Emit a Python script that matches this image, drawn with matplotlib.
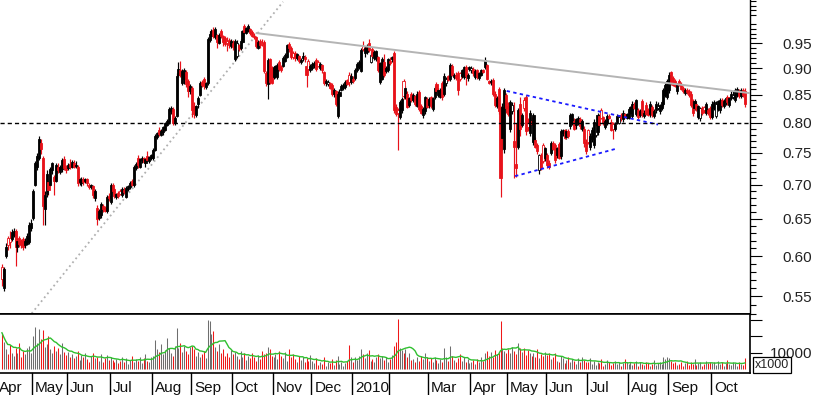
import numpy as np
import pandas as pd
import matplotlib
matplotlib.use("Agg")
import matplotlib.pyplot as plt
from matplotlib.patches import Rectangle
from matplotlib.ticker import FixedLocator

# daily bars per month: (open, high, low, close) in 1/1000, volume in millions
apr09 = [(586,590,563,571,22.0),(560,586,556,584,16.5),(600,617,597,612,12.0),(624,626,608,614,9.0),
         (624,634,611,618,14.5),(622,636,620,632,10.0),(628,638,625,634,8.0),(634,636,587,612,13.0),
         (612,624,605,620,9.5),(624,626,612,616,15.5),(620,622,610,614,7.0),(622,625,608,612,11.0),
         (614,624,611,620,9.0),(616,630,614,626,12.5),(618,646,616,641,14.0),(638,650,634,645,10.0)]
may09 = [(651,694,648,690,20.0),(700,736,698,733,25.5),(728,750,722,745,16.0),(742,778,738,772,24.5),
         (766,772,748,756,18.0),(741,745,641,668,23.5),(664,690,642,684,13.5),(686,722,682,716,15.0),
         (704,706,684,692,20.0),(700,728,698,724,12.0),(722,735,716,733,9.5),(711,714,684,705,14.0),
         (706,734,704,731,11.0),(728,733,718,722,13.0),(720,730,716,727,9.0),(724,742,720,738,15.5),
         (740,744,722,726,10.5),(726,730,718,722,8.5)]
jun09 = [(726,734,722,730,10.5),(732,740,724,727,7.0),(728,738,725,735,9.0),(733,738,726,728,6.5),
         (729,736,725,731,8.0),(728,730,698,703,11.0),(704,710,700,708,5.5),(702,711,698,709,8.5),
         (708,712,700,704,7.0),(706,710,702,708,9.5),(708,710,698,702,6.0),(700,703,693,696,4.5),
         (697,701,693,699,8.0),(698,700,680,684,10.0),(680,694,676,690,6.5),(666,670,642,650,7.5),
         (652,664,648,662,5.0),(655,674,652,672,9.0),(668,672,660,664,4.0),(665,668,660,662,6.5),
         (662,685,658,682,8.5),(683,688,676,680,5.5)]
jul09 = [(674,703,672,700,7.0),(699,702,688,690,5.5),(693,695,680,683,4.0),(681,688,678,686,6.0),
         (687,690,680,683,3.5),(690,693,684,686,5.0),(684,697,682,694,7.5),(692,696,686,689,4.5),
         (682,698,680,695,6.5),(693,700,690,698,3.0),(696,706,694,703,5.5),(706,708,698,700,8.0),
         (699,730,697,727,4.0),(726,735,722,732,6.0),(742,746,726,730,5.0),(728,742,726,740,7.0),
         (738,744,733,741,3.5),(741,743,733,735,6.5),(733,742,728,740,9.0),(744,752,736,738,5.0),
         (736,745,733,743,4.5),(742,748,738,746,7.5)]
aug09 = [(741,757,738,754,8.0),(754,781,752,778,17.5),(776,785,772,782,12.0),(788,792,778,781,10.5),
         (780,790,778,786,15.0),(784,795,780,792,9.0),(788,802,786,799,11.5),(796,806,794,803,19.0),
         (801,828,798,824,13.0),(820,830,815,826,9.5),(824,827,796,800,8.0),(800,812,797,808,14.0),
         (812,890,810,885,25.0),(888,912,883,898,12.5),(897,915,884,888,16.0),(872,898,868,894,10.5),
         (880,900,870,897,14.0),(893,896,864,870,11.0),(876,880,846,856,9.0),(856,870,852,866,13.5)]
sep09 = [(862,866,810,822,14.0),(830,836,808,815,12.0),(814,832,810,829,8.0),(834,848,826,844,10.5),
         (850,876,848,872,7.5),(874,878,864,868,9.0),(880,884,860,866,11.0),(864,874,860,872,6.5),
         (872,963,868,958,30.0),(956,975,952,970,29.0),(966,980,964,976,21.0),(978,984,960,964,23.0),
         (962,984,958,980,13.5),(967,970,940,953,11.0),(951,972,948,968,15.0),(976,980,960,964,9.5),
         (966,968,945,952,12.0),(960,964,944,948,8.0),(955,962,935,950,10.0),(956,960,940,947,7.5),
         (944,958,940,954,11.5)]
oct09 = [(950,956,936,942,9.0),(918,958,914,955,10.5),(924,956,920,950,8.0),(946,948,935,938,6.0),
         (940,958,936,955,11.0),(952,978,950,975,7.5),(986,990,972,974,9.5),(972,984,970,982,5.5),
         (976,990,974,986,8.0),(980,982,968,972,6.5),(974,978,962,966,10.0),(966,972,958,962,7.0),
         (962,964,940,944,5.0),(940,956,938,952,8.5),(955,958,940,946,6.0),(950,958,944,948,11.0),
         (952,956,890,895,9.0),(890,895,866,872,10.0),(870,920,842,916,13.5),(918,920,870,874,12.0),
         (900,904,870,872,8.0)]
nov09 = [(884,904,880,902,7.5),(886,906,882,904,9.0),(883,910,880,907,6.0),(912,916,895,898,11.0),
         (902,906,892,896,8.0),(905,924,902,920,6.5),(915,930,912,926,10.5),(922,948,920,946,5.0),
         (948,953,932,940,12.0),(940,944,918,922,7.0),(930,934,918,922,9.0),(930,934,915,920,6.0),
         (920,930,916,928,4.5),(924,926,910,914,8.0),(912,920,908,916,5.5),(920,932,914,924,7.0),
         (922,926,912,918,4.0),(904,906,864,888,6.5),(914,918,896,899,5.0),(896,908,892,905,8.5)]
dec09 = [(900,912,896,909,5.0),(906,914,900,911,3.5),(916,920,894,898,6.5),(912,916,902,905,2.5),
         (900,912,896,909,4.0),(906,908,890,896,3.0),(892,894,868,872,7.0),(872,880,866,876,2.0),
         (870,878,866,874,4.5),(872,874,860,862,3.5),(868,872,848,852,6.0),(852,862,846,858,2.5),
         (856,858,830,833,5.5),(812,856,808,852,8.0),(848,860,845,855,3.0),(858,870,856,866,4.5),
         (862,872,858,868,2.0),(864,877,860,874,3.5),(878,880,868,870,5.0),(888,892,866,874,14.5),
         (874,890,870,886,7.5)]
jan10 = [(880,886,872,876,4.5),(882,900,878,897,7.0),(896,912,892,908,5.5),(902,916,898,912,8.0),
         (895,940,893,936,12.0),(945,955,935,938,9.0),(930,944,922,940,6.5),(932,948,928,944,10.0),
         (950,959,932,936,11.5),(912,930,910,926,5.0),(938,942,920,924,6.0),(920,936,916,932,4.0),
         (918,936,914,934,7.5),(922,924,893,896,9.0),(874,912,870,910,6.5),(880,922,878,918,8.0),
         (912,928,884,888,5.5),(895,904,890,900,7.0),(896,920,893,918,4.5)]
feb10 = [(914,922,906,910,6.0),(918,925,912,922,8.5),(930,935,818,822,14.0),(828,834,812,816,16.5),
         (822,826,754,817,30.5),(810,840,806,836,13.0),(822,846,818,842,11.5),(875,880,843,848,10.0),
         (846,866,842,862,12.0),(852,856,826,828,7.0),(832,846,828,844,9.5),(852,855,836,840,5.5),
         (840,854,836,850,6.0),(848,850,830,834,4.5),(830,856,828,852,7.0),(855,859,820,824,5.0),
         (830,834,816,818,8.0),(814,828,808,824,6.0),(820,848,816,845,9.5),(842,846,826,828,7.5)]
mar10 = [(832,846,826,842,5.0),(846,848,826,830,6.5),(824,846,820,844,4.0),(846,866,842,862,7.5),
         (870,874,852,856,5.5),(850,862,846,858,3.5),(846,862,844,858,6.0),(872,876,840,846,4.5),
         (852,890,848,886,13.0),(872,884,866,880,7.0),(886,888,876,878,5.0),(880,910,876,907,14.0),
         (905,908,885,888,8.0),(884,890,880,888,5.5),(888,892,878,882,4.0),(890,894,850,858,6.5),
         (890,892,876,880,9.0),(886,898,882,896,5.0),(884,904,880,902,7.0),(902,906,868,886,4.5),
         (881,890,876,888,6.0),(898,904,894,902,3.5)]
apr10 = [(896,904,890,900,4.0),(898,902,886,890,5.5),(884,898,880,894,3.0),(896,898,880,884,6.0),
         (882,892,878,890,4.5),(888,898,886,896,7.0),(897,899,890,892,5.0),(902,922,898,916,9.5),
         (906,908,878,880,11.0),(876,878,870,872,8.0),(874,880,868,876,10.5),(878,882,848,852,7.5),
         (852,856,828,832,11.5),(830,848,826,844,9.0),(860,864,816,820,10.0),(826,830,681,710,29.0),
         (774,835,754,828,12.5),(756,862,750,858,11.0),(850,854,818,826,9.5)]
may10 = [(830,836,812,816,12.0),(790,840,784,836,10.0),(820,836,816,832,13.5),(770,836,710,760,11.0),
         (732,800,712,726,9.0),(760,826,756,822,16.0),(834,846,778,790,12.5),(796,818,792,814,10.5),
         (840,846,820,826,13.0),(846,850,780,786,8.5),(800,808,786,792,11.5),(782,822,778,818,9.5),
         (804,810,796,798,8.0),(767,818,762,814,10.0),(771,776,758,760,7.0),(762,766,748,752,12.0),
         (722,748,716,746,6.5),(746,750,722,726,9.0),(762,766,734,736,8.0),(742,760,736,757,10.5)]
jun10 = [(746,750,726,730,8.5),(734,738,724,728,10.0),(750,770,746,766,6.0),(766,770,754,756,7.5),
         (762,766,734,738,9.5),(746,760,742,758,5.0),(764,768,740,742,4.5),(744,790,740,786,8.0),
         (782,790,778,788,6.5),(787,790,772,774,3.5),(776,790,772,786,5.5),(786,790,774,778,7.0),
         (794,818,790,814,4.0),(800,818,796,816,6.0),(804,808,788,790,5.0),(796,808,790,806,3.0),
         (800,812,796,808,6.5),(806,810,790,794,4.5),(790,806,786,804,7.5),(790,794,760,766,5.5),
         (768,772,748,752,4.0)]
jul10 = [(787,790,764,768,4.0),(760,782,754,778,6.5),(772,792,768,788,3.0),(762,806,758,802,5.0),
         (780,800,776,796,2.5),(784,818,780,814,4.5),(812,816,794,796,3.5),(822,826,806,808,6.0),
         (810,812,796,800,2.0),(792,806,790,804,3.0),(800,816,796,812,5.5),(812,815,806,808,4.0),
         (802,806,786,788,2.5),(798,802,772,790,3.5),(790,802,786,798,5.0),(802,816,798,812,3.0),
         (800,814,798,810,4.5),(814,818,804,808,2.0),(806,822,802,818,3.5),(816,818,808,812,6.0),
         (808,818,806,816,4.0)]
aug10 = [(808,826,806,824,3.0),(818,830,816,828,4.5),(812,838,808,834,2.5),(832,836,824,826,3.5),
         (816,842,812,840,5.0),(822,826,806,810,2.0),(814,824,810,820,4.0),(838,842,810,814,3.0),
         (812,822,808,818,2.5),(832,836,814,816,4.5),(822,826,812,814,3.5),(816,838,810,834,2.0),
         (828,832,810,814,3.0),(812,824,808,820,5.5),(822,838,818,834,2.5),(826,836,822,830,3.5),
         (820,834,816,832,4.0),(826,840,822,836,3.0),(834,862,830,858,7.0),(850,872,846,868,6.0),
         (846,880,842,876,7.5)]
sep10 = [(858,892,854,888,6.5),(892,895,868,872,5.0),(882,886,866,868,3.5),(876,880,864,866,4.0),
         (856,872,852,870,2.5),(876,880,866,868,3.0),(870,874,858,860,4.5),(862,866,854,856,2.0),
         (854,862,850,858,3.5),(858,862,852,855,5.0),(856,860,846,850,2.5),(852,856,828,832,4.0),
         (838,842,812,818,3.0),(826,842,822,838,6.0),(834,838,820,824,2.5),(810,832,806,830,3.5),
         (808,828,804,826,4.5),(826,830,814,818,2.0),(827,830,818,822,3.0),(818,836,814,834,5.0),
         (822,826,814,818,3.5),(826,830,806,810,4.0)]
oct10 = [(810,838,806,834,3.5),(826,840,822,836,4.5),(812,838,808,834,2.5),(824,840,820,838,5.0),
         (822,844,818,840,3.0),(840,844,828,832,4.0),(830,842,826,838,2.0),(836,846,832,844,3.5),
         (846,850,832,836,5.5),(832,846,828,844,3.0),(844,856,840,852,2.5),(846,856,842,850,4.5),
         (840,862,836,858,3.5),(850,864,846,860,2.0),(856,860,844,848,4.0),(848,862,844,858,3.0),
         (858,862,846,850,2.5),(856,862,828,834,6.5)]

months = [apr09, may09, jun09, jul09, aug09, sep09, oct09, nov09, dec09, jan10,
          feb10, mar10, apr10, may10, jun10, jul10, aug10, sep10, oct10]
month_labels = ["Apr", "May", "Jun", "Jul", "Aug", "Sep", "Oct", "Nov", "Dec", "2010",
                "", "Mar", "Apr", "May", "Jun", "Jul", "Aug", "Sep", "Oct"]

# drawn lines: (bar index, price)
resist_x, resist_y = [131.3, 385.6], [0.971, 0.853]
support_x, support_y = [15.3, 144.9], [0.530, 1.039]
tri_top_x, tri_top_y = [260.2, 338.2], [0.857, 0.797]
tri_bot_x, tri_bot_y = [264.5, 316.0], [0.713, 0.756]
level = 0.80

RED = "#e8121a"
W, H = 817, 395

rows = [r for m in months for r in m]
o = np.array([r[0] for r in rows]) / 1000
h = np.array([r[1] for r in rows]) / 1000
l = np.array([r[2] for r in rows]) / 1000
c = np.array([r[3] for r in rows]) / 1000
vol = np.array([r[4] for r in rows]) * 1000
idx = np.arange(len(rows))
starts = np.cumsum([0] + [len(m) for m in months[:-1]])

plt.rcParams["font.family"] = ["Liberation Sans", "DejaVu Sans"]
plt.rcParams["lines.scale_dashes"] = False

fig = plt.figure(figsize=(W / 100, H / 100), dpi=100)


def box(x0, y0, x1, y1):
    return [x0 / W, 1 - y1 / H, (x1 - x0) / W, (y1 - y0) / H]


ax = fig.add_axes(box(0, 0, 750, 313.5))
axv = fig.add_axes(box(0, 313.5, 750, 372.7))

# ── candles ──
up = c >= o
prev = np.r_[c[0], c[:-1]]
filled = up == (c >= prev)
col = np.where(up, "black", RED)
face = np.where(filled, col, "white")

ax.set_yscale("log")
ax.vlines(idx, l, h, colors=col, lw=0.85, zorder=2)
body_lo = np.minimum(o, c)
body_h = np.maximum(np.abs(c - o), 0.0015)
ax.bar(idx, body_h, bottom=body_lo, width=1.05, color=face, edgecolor=col,
       linewidth=0.6, zorder=3)

ax.plot(resist_x, resist_y, color="#b4b4b4", lw=1.4, zorder=4)
ax.plot(support_x, support_y, color="#b0b0b0", lw=1.3, ls=(0, (1.3, 2.3)), zorder=1)
ax.plot(tri_top_x, tri_top_y, color="#1a1aff", lw=1.3, ls=(0, (2.4, 2.4)), zorder=4)
ax.plot(tri_bot_x, tri_bot_y, color="#1a1aff", lw=1.3, ls=(0, (2.4, 2.4)), zorder=4)
ax.axhline(level, color="black", lw=1.0, ls=(0, (3, 2.2)), zorder=4)

ax.set_xlim(-1, 385.6)
ax.set_ylim(0.530, 1.043)
ax.set_xticks([])
for s in ("top", "left"):
    ax.spines[s].set_visible(False)
ax.spines["bottom"].set_linewidth(1.3)
ax.spines["right"].set_linewidth(1.0)
ax.yaxis.tick_right()
majors = [0.55, 0.60, 0.65, 0.70, 0.75, 0.80, 0.85, 0.90, 0.95]
ax.yaxis.set_major_locator(FixedLocator(majors))
ax.yaxis.set_minor_locator(FixedLocator([k / 100 for k in range(53, 105) if k % 5]))
ax.set_yticklabels([f"{v:.2f}" for v in majors])
ax.yaxis.set_minor_formatter(plt.NullFormatter())
ax.tick_params(axis="y", which="major", length=8.6, width=0.8, labelsize=11,
               pad=36, labelcolor="#222222")
ax.tick_params(axis="y", which="minor", length=4.3, width=0.8)
for lab in ax.get_yticklabels():
    lab.set_horizontalalignment("right")

# ── volume ──
vcol = np.where(up, "#6e6e6e", "#f01818")
axv.vlines(idx, 0, vol, colors=vcol, lw=0.75, zorder=2)
ma = pd.Series(vol).rolling(10, min_periods=1).mean()
axv.plot(idx, ma, color="#30c030", lw=1.0, zorder=3)
axv.set_xlim(-1, 385.6)
axv.set_ylim(-2250, 33700)
axv.set_xticks([])
axv.spines["left"].set_visible(False)
for s in ("top", "bottom", "right"):
    axv.spines[s].set_linewidth(1.2)
axv.yaxis.tick_right()
axv.set_yticks([10000, 20000, 30000])
axv.set_yticklabels(["10000", "", ""])
axv.tick_params(axis="y", length=8.6, width=0.8, labelsize=11, pad=36,
                labelcolor="#222222")
for lab in axv.get_yticklabels():
    lab.set_horizontalalignment("right")

fig.add_artist(Rectangle((753 / W, 1 - 372.7 / H), 38 / W, 15.7 / H,
                         transform=fig.transFigure, facecolor="white",
                         edgecolor="black", lw=0.9, zorder=5))
fig.text(772 / W, 1 - 365 / H, "x1000", ha="center", va="center", fontsize=9,
         color="#222222", zorder=6)

# ── month axis ──
tr = axv.get_xaxis_transform()
sep_bottom = -(H - 372.7) / 59.2
base = -19.0 / 59.2
for s, name in zip(starts, month_labels):
    if s > 0:
        axv.plot([s - 0.5, s - 0.5], [0, sep_bottom], color="black", lw=1.0,
                 transform=tr, clip_on=False)
    xl = s + 1.0 if s > 0 else -1.6
    axv.text(xl, base, name, transform=tr, fontsize=11, va="baseline",
             ha="left", color="#111111", clip_on=False)

fig.savefig("out.png", dpi=100)
